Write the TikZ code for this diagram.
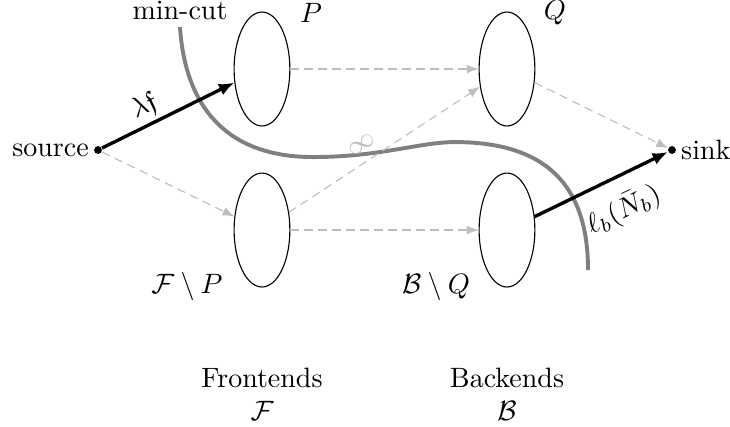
\documentclass[tikz,border=0pt]{standalone}
\usepackage{amsmath, amssymb}
\usetikzlibrary{arrows.meta, positioning, shapes.geometric}
\definecolor{cutgray}{RGB}{128,128,128}
\definecolor{flowgray}{RGB}{190,190,190}

\begin{document}
\begin{tikzpicture}[
  grp/.style={ellipse, draw, minimum width=0.70cm, minimum height=1.43cm, inner sep=0pt},
  terminal/.style={circle, fill, inner sep=0pt, minimum size=2.8pt},
  flow/.style={-{Latex[length=4.2pt, width=3.2pt]}, flowgray, dash pattern=on 3pt off 2pt},
  used/.style={-{Latex[length=5.5pt, width=4.4pt]}, very thick},
  cut/.style={cutgray, line width=1.4pt}
]
\useasboundingbox (-1.230,1.883) rectangle (7.932,-3.476);

\node[terminal] (src) at (0,0)        {};
\node[grp]      (P)   at (2.058,1.017)  {};
\node[grp]      (Q)   at (5.133,1.017)  {};
\node[grp]      (FP)  at (2.058,-1.004) {};
\node[grp]      (BQ)  at (5.133,-1.004) {};
\node[terminal] (snk) at (7.204,0)    {};

\node[inner sep=1.5pt] (srclbl) [left=0pt of src]  {source};
\node[inner sep=1.5pt] (snklbl) [right=0pt of snk] {sink};
\node (Plbl)  at (2.673,1.719)  {$P$};
\node (Qlbl)  at (5.735,1.719)  {$Q$};
\node (FPlbl) at (1.117,-1.707) {$\mathcal{F}\setminus P$};
\node (BQlbl) at (4.242,-1.707) {$\mathcal{B}\setminus Q$};

% the cut
\coordinate (cuttop) at (1.029,1.544);
\draw[cut] (cuttop) .. controls (1.092,0.565) and (1.594,-0.088) .. (2.698,-0.088)
  .. controls (3.539,-0.088) and (4.041,0.100) .. (4.480,0.100)
  .. controls (5.798,0.100) and (6.150,-0.628) .. (6.150,-1.506);
\node (cutlbl) [above=-1pt of cuttop] {min-cut};

\draw[used] (src) -- node[sloped, above, inner sep=1.5pt, pos=0.38] {$\lambda\mathfrak{f}$} (P);
\draw[flow] (src) -- (FP);
\draw[flow] (P) -- (Q);
\draw[flow] (FP) -- node[sloped, above, pos=0.43] {$\infty$} (Q);
\draw[flow] (FP) -- (BQ);
\draw[flow] (Q) -- (snk);
\draw[used] (BQ) -- node[sloped, below=2.5pt, pos=0.56] {$\ell_b(\bar{N}_b)$} (snk);

\node[align=center] (frontlbl) [below=0.88cm of FP] {Frontends\\$\mathcal{F}$};
\node[align=center] (backlbl)  [below=0.88cm of BQ] {Backends\\$\mathcal{B}$};
\end{tikzpicture}
\end{document}
